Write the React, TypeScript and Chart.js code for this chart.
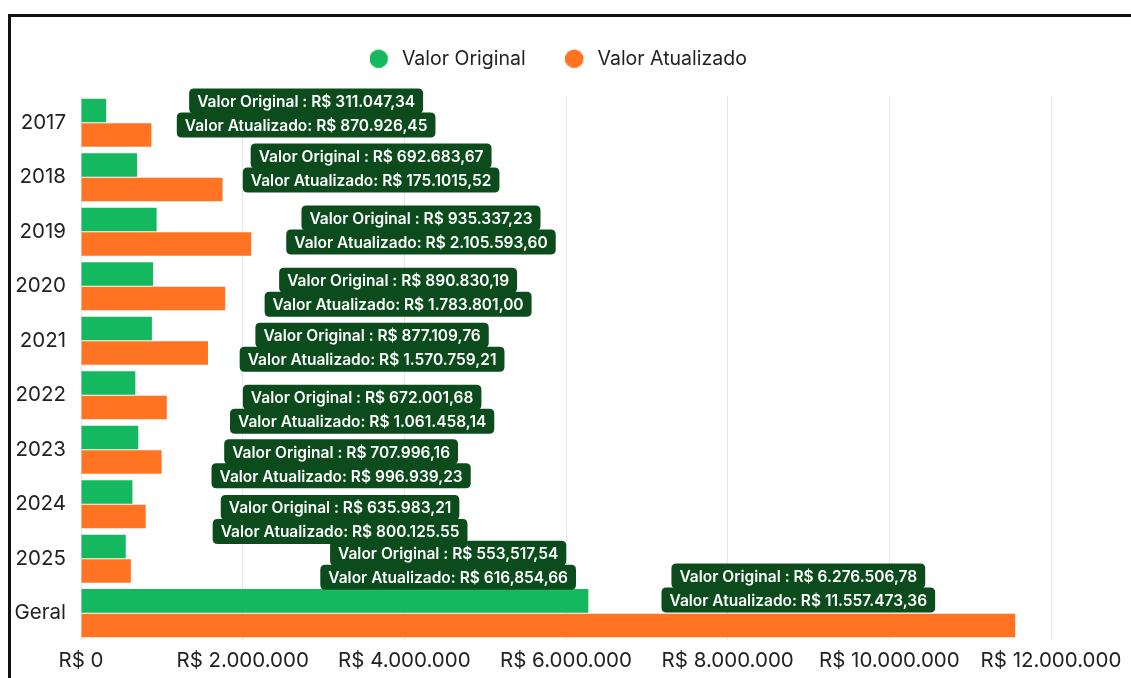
import React, { useEffect, useRef } from "react";
import { Chart, registerables } from "chart.js";

Chart.register(...registerables);

const categories = ["2017", "2018", "2019", "2020", "2021", "2022", "2023", "2024", "2025", "Geral"];
const valorOriginal = [311047.34, 692683.67, 935337.23, 890830.19, 877109.76, 672001.68, 707996.16, 635983.21, 553517.54, 6276506.78];
const valorAtualizado = [870926.45, 1751015.52, 2105593.6, 1783801.0, 1570759.21, 1061458.14, 996939.23, 800125.55, 616854.66, 11557473.36];

const originalTexts = [
  "Valor Original : R$ 311.047,34",
  "Valor Original : R$ 692.683,67",
  "Valor Original : R$ 935.337,23",
  "Valor Original : R$ 890.830,19",
  "Valor Original : R$ 877.109,76",
  "Valor Original : R$ 672.001,68",
  "Valor Original : R$ 707.996,16",
  "Valor Original : R$ 635.983,21",
  "Valor Original : R$ 553,517,54",
  "Valor Original : R$ 6.276.506,78",
];
const updatedTexts = [
  "Valor Atualizado: R$ 870.926,45",
  "Valor Atualizado: R$ 175.1015,52",
  "Valor Atualizado: R$ 2.105.593,60",
  "Valor Atualizado: R$ 1.783.801,00",
  "Valor Atualizado: R$ 1.570.759,21",
  "Valor Atualizado: R$ 1.061.458,14",
  "Valor Atualizado: R$ 996.939,23",
  "Valor Atualizado: R$ 800.125.55",
  "Valor Atualizado: R$ 616,854,66",
  "Valor Atualizado: R$ 11.557.473,36",
];

// label anchor (value units on x, category-index shift on y)
const labelAnchorValue = [2785000, 3589000, 4206000, 3923000, 3601000, 3478000, 3218000, 3205000, 4542000, 8874000];
const labelAnchorShift = [-0.18, -0.17, -0.03, 0.11, 0.12, 0.26, 0.26, 0.28, 0.12, -0.46];

const xMin = 0;
const xMax = 12000000;
const xStep = 2000000;

const GREEN = "#13b85f";
const ORANGE = "#ff7323";
const LABEL_BG = "#0b4b1c";
const FONT = "Inter, 'Noto Sans', sans-serif";

function formatBRL(v: number): string {
  const s = Math.round(v).toString().replace(/\B(?=(\d{3})+(?!\d))/g, ".");
  return "R$ " + s;
}

function roundRect(ctx: CanvasRenderingContext2D, x: number, y: number, w: number, h: number, r: number) {
  ctx.beginPath();
  ctx.moveTo(x + r, y);
  ctx.lineTo(x + w - r, y);
  ctx.quadraticCurveTo(x + w, y, x + w, y + r);
  ctx.lineTo(x + w, y + h - r);
  ctx.quadraticCurveTo(x + w, y + h, x + w - r, y + h);
  ctx.lineTo(x + r, y + h);
  ctx.quadraticCurveTo(x, y + h, x, y + h - r);
  ctx.lineTo(x, y + r);
  ctx.quadraticCurveTo(x, y, x + r, y);
  ctx.closePath();
}

function makeDot(color: string): HTMLCanvasElement {
  const c = document.createElement("canvas");
  c.width = 26;
  c.height = 20;
  const g = c.getContext("2d")!;
  g.fillStyle = color;
  g.beginPath();
  g.arc(9, 10, 9.3, 0, Math.PI * 2);
  g.fill();
  return c;
}

const valueLabels = {
  id: "valueLabels",
  afterDatasetsDraw(chart: any) {
    const ctx: CanvasRenderingContext2D = chart.ctx;
    const xs = chart.scales.x;
    const ys = chart.scales.y;
    ctx.save();
    ctx.font = "600 15.5px " + FONT;
    ctx.textAlign = "center";
    ctx.textBaseline = "middle";
    const boxH = 25;
    const lineGap = 24;
    categories.forEach((_, i) => {
      const cx = xs.getPixelForValue(labelAnchorValue[i]);
      const cy = ys.getPixelForValue(i + labelAnchorShift[i]);
      const lines = [originalTexts[i], updatedTexts[i]];
      lines.forEach((t, j) => {
        const ly = cy + (j === 0 ? -lineGap / 2 : lineGap / 2);
        const w = ctx.measureText(t).width + 16;
        ctx.fillStyle = LABEL_BG;
        roundRect(ctx, cx - w / 2, ly - boxH / 2, w, boxH, 5);
        ctx.fill();
      });
      lines.forEach((t, j) => {
        const ly = cy + (j === 0 ? -lineGap / 2 : lineGap / 2);
        ctx.fillStyle = "#ffffff";
        ctx.fillText(t, cx, ly + 1);
      });
    });
    ctx.restore();
  },
};

export default function App() {
  const canvasRef = useRef<HTMLCanvasElement | null>(null);

  useEffect(() => {
    if (!canvasRef.current) return;
    const dots = [makeDot(GREEN), makeDot(ORANGE)];
    const chart = new Chart(canvasRef.current, {
      type: "bar",
      data: {
        labels: categories,
        datasets: [
          {
            label: "Valor Original",
            data: valorOriginal,
            backgroundColor: GREEN,
            borderWidth: 0,
            categoryPercentage: 0.9,
            barPercentage: 0.96,
          },
          {
            label: "Valor Atualizado",
            data: valorAtualizado,
            backgroundColor: ORANGE,
            borderWidth: 0,
            categoryPercentage: 0.9,
            barPercentage: 0.96,
          },
        ],
      },
      options: {
        indexAxis: "y",
        animation: false,
        responsive: false,
        maintainAspectRatio: false,
        layout: { padding: { top: -11, right: 22, bottom: 0, left: 0 } },
        plugins: {
          legend: {
            position: "top",
            labels: {
              usePointStyle: true,
              boxWidth: 19,
              boxHeight: 13,
              padding: 43,
              color: "#222222",
              font: { family: FONT, size: 19.5 },
              generateLabels: (ch: any) => {
                const items = Chart.defaults.plugins.legend.labels.generateLabels(ch);
                items.forEach((it: any, k: number) => {
                  it.pointStyle = dots[k];
                });
                return items;
              },
            },
          },
          tooltip: { enabled: false },
        },
        scales: {
          x: {
            type: "linear",
            min: xMin,
            max: xMax,
            afterFit: (s: any) => {
              s.paddingRight = 80;
            },
            ticks: {
              stepSize: xStep,
              padding: 8,
              color: "#222222",
              font: { family: FONT, size: 20.5 },
              callback: (v: any) => formatBRL(Number(v)),
            },
            grid: { color: "#e6e6e6", lineWidth: 1, drawTicks: false },
            border: { display: false },
          },
          xTop: {
            type: "linear",
            position: "top",
            display: true,
            afterFit: (s: any) => {
              s.height = 17;
            },
            ticks: { display: false },
            grid: { display: false, drawTicks: false },
            border: { display: false },
          },
          y: {
            type: "category",
            afterFit: (s: any) => {
              s.width = 70;
            },
            ticks: {
              padding: 15,
              color: "#222222",
              font: { family: FONT, size: 20.5 },
            },
            grid: { display: false, drawTicks: false },
            border: { display: false },
          },
        },
      },
      plugins: [valueLabels],
    } as any);
    return () => chart.destroy();
  }, []);

  return (
    <div style={{ position: "fixed", left: 0, top: 0, width: 1131, height: 678, overflow: "hidden", background: "#ffffff" }}>
      <div
        style={{
          position: "absolute",
          left: 8,
          top: 14,
          width: 1200,
          height: 700,
          borderTop: "3px solid #111",
          borderLeft: "3px solid #111",
        }}
      >
        <canvas ref={canvasRef} width={1120} height={664} style={{ display: "block", width: 1120, height: 664 }} />
      </div>
    </div>
  );
}
